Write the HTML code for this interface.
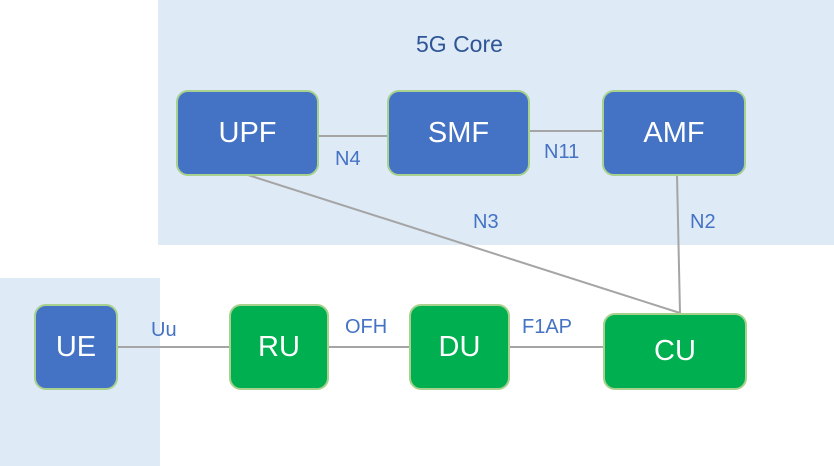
<!DOCTYPE html>
<html><head><style>
body{margin:0;width:834px;height:466px;position:relative;background:#fff;font-family:"Liberation Sans",sans-serif;overflow:hidden}
.bg{position:absolute;background:#DEEAF6}
.b{position:absolute;box-sizing:border-box;border:2px solid #A9D18E;border-radius:12px;color:#fff;font-size:29px;display:flex;align-items:center;justify-content:center}
.bl{background:#4472C4}.gr{background:#00B050}
.l{position:absolute;color:#4472C4;font-size:20px}
svg{position:absolute;left:0;top:0}
</style></head><body>
<div class="bg" style="left:158px;top:0;width:676px;height:245px"></div>
<div class="bg" style="left:0;top:278px;width:160px;height:188px"></div>
<svg width="834" height="466"><g stroke="#A5A5A5" stroke-width="2" fill="none">
<line x1="319" y1="136" x2="387" y2="136"/>
<line x1="530" y1="131" x2="602" y2="131"/>
<line x1="248" y1="175" x2="680" y2="313"/>
<line x1="677" y1="175" x2="680" y2="313"/>
<line x1="118" y1="347" x2="229" y2="347"/>
<line x1="329" y1="347" x2="409" y2="347"/>
<line x1="510" y1="347" x2="603" y2="347"/>
</g></svg>
<div class="l" style="left:416px;top:31px;color:#2F5597;font-size:23px">5G Core</div>
<div class="b bl" style="left:176px;top:90px;width:143px;height:86px">UPF</div>
<div class="b bl" style="left:387px;top:90px;width:143px;height:86px">SMF</div>
<div class="b bl" style="left:602px;top:90px;width:144px;height:86px">AMF</div>
<div class="b bl" style="left:34px;top:304px;width:84px;height:86px">UE</div>
<div class="b gr" style="left:229px;top:304px;width:100px;height:86px">RU</div>
<div class="b gr" style="left:409px;top:304px;width:101px;height:86px">DU</div>
<div class="b gr" style="left:603px;top:313px;width:144px;height:77px">CU</div>
<div class="l" style="left:335px;top:148px">N4</div>
<div class="l" style="left:544px;top:141px">N11</div>
<div class="l" style="left:473px;top:211px">N3</div>
<div class="l" style="left:690px;top:211px">N2</div>
<div class="l" style="left:151px;top:319px">Uu</div>
<div class="l" style="left:345px;top:316px">OFH</div>
<div class="l" style="left:522px;top:316px">F1AP</div>
</body></html>
